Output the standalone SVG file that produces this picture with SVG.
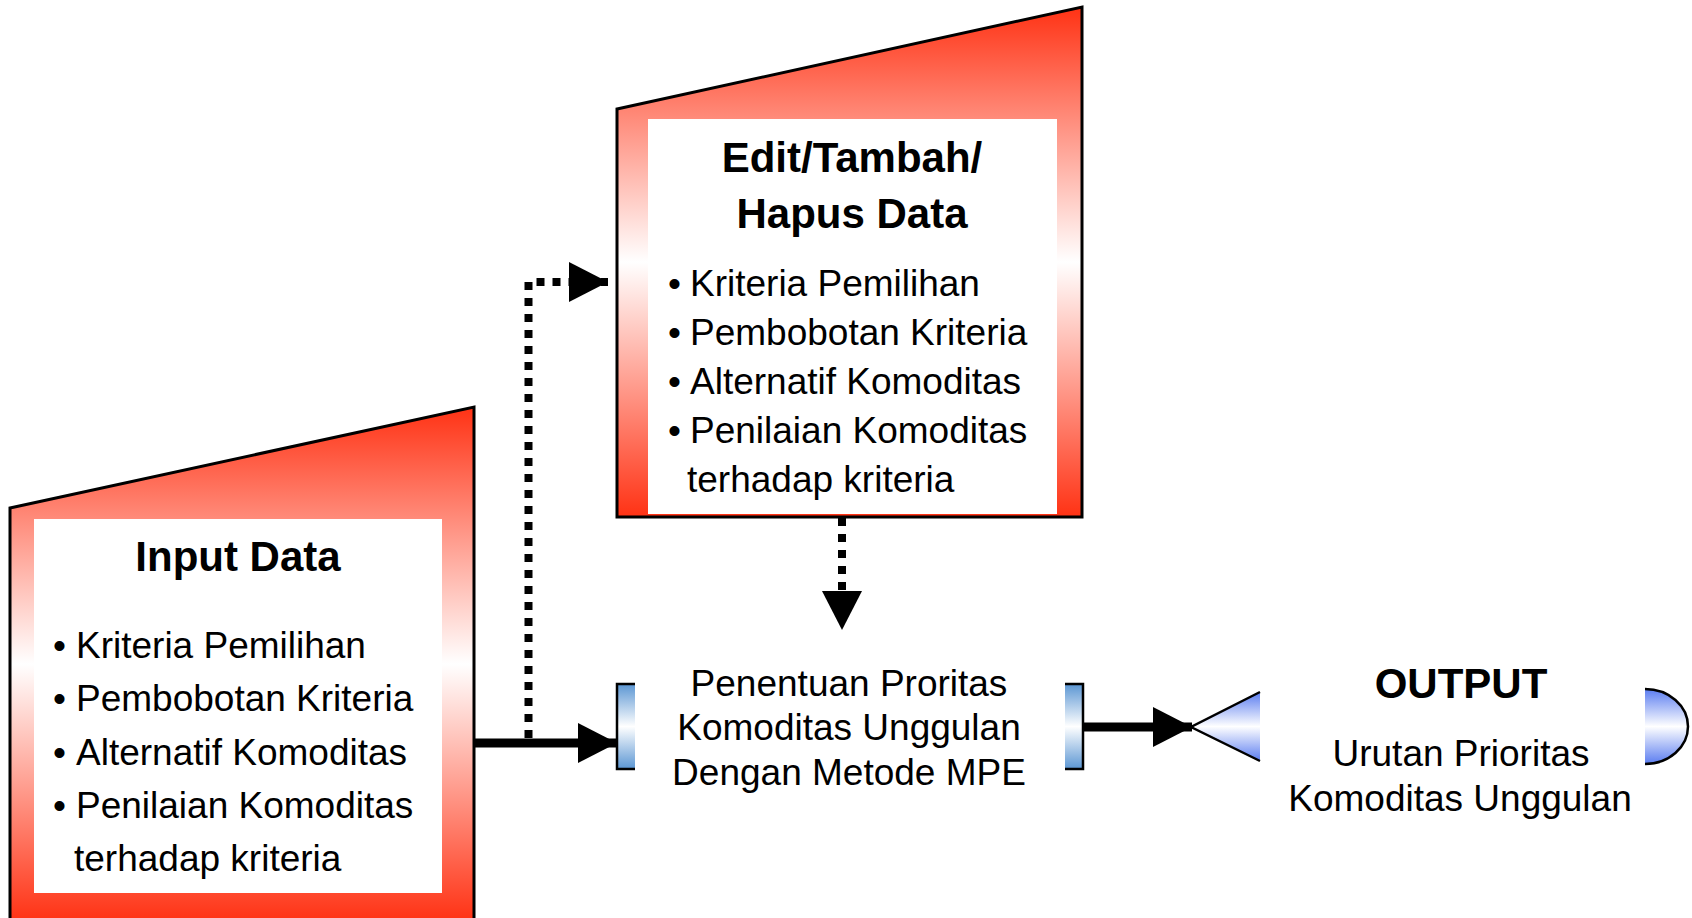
<svg xmlns="http://www.w3.org/2000/svg" width="1692" height="918" viewBox="0 0 1692 918">
  <defs>
    <linearGradient id="redFade" x1="0" y1="0" x2="0" y2="1">
      <stop offset="0" stop-color="#ff3214"/>
      <stop offset="0.5" stop-color="#ffffff"/>
      <stop offset="1" stop-color="#ff3214"/>
    </linearGradient>
    <linearGradient id="steelFade" x1="0" y1="0" x2="0" y2="1">
      <stop offset="0" stop-color="#5b96d3"/>
      <stop offset="0.5" stop-color="#ffffff"/>
      <stop offset="1" stop-color="#5b96d3"/>
    </linearGradient>
    <linearGradient id="violetFade" x1="0" y1="0" x2="0" y2="1">
      <stop offset="0" stop-color="#5a7cf0"/>
      <stop offset="0.5" stop-color="#ffffff"/>
      <stop offset="1" stop-color="#5a7cf0"/>
    </linearGradient>
    <marker id="head" markerUnits="userSpaceOnUse" markerWidth="40" markerHeight="40" refX="39" refY="20" orient="auto">
      <path d="M0,0 L39,20 L0,40 Z" fill="#000"/>
    </marker>
    <style>
      .frame { fill: url(#redFade); stroke: #000; stroke-width: 3; stroke-linejoin: miter; }
      .panel { fill: #ffffff; }
      .title { font-family: "Liberation Sans", Arial, sans-serif; font-weight: bold; font-size: 42px; fill: #000; text-anchor: middle; }
      .body { font-family: "Liberation Sans", Arial, sans-serif; font-size: 37px; fill: #000; }
      .mid { text-anchor: middle; }
      .edge { fill: none; stroke: #000; stroke-width: 2.5; }
      .solid { fill: none; stroke: #000; stroke-width: 9; marker-end: url(#head); }
      .dotted { fill: none; stroke: #000; stroke-width: 8; stroke-dasharray: 8 8; marker-end: url(#head); }
    </style>
  </defs>

  <!-- Input node -->
  <g id="input-data">
    <path class="frame" d="M10,508 L474,407 L474,921 L10,921 Z"/>
    <rect class="panel" x="34" y="519" width="408" height="374"/>
    <text class="title" x="238" y="571">Input Data</text>
    <g class="body">
      <text x="53" y="658">•</text><text x="76" y="658">Kriteria Pemilihan</text>
      <text x="53" y="711">•</text><text x="76" y="711">Pembobotan Kriteria</text>
      <text x="53" y="765">•</text><text x="76" y="765">Alternatif Komoditas</text>
      <text x="53" y="818">•</text><text x="76" y="818">Penilaian Komoditas</text>
      <text x="74" y="871">terhadap kriteria</text>
    </g>
  </g>

  <!-- Edit node -->
  <g id="edit-data">
    <path class="frame" d="M617,109 L1082,7 L1082,517 L617,517 Z"/>
    <rect class="panel" x="648" y="119" width="409" height="395"/>
    <text class="title" x="852" y="172">Edit/Tambah/</text>
    <text class="title" x="852" y="228">Hapus Data</text>
    <g class="body">
      <text x="668" y="296">•</text><text x="690" y="296">Kriteria Pemilihan</text>
      <text x="668" y="345">•</text><text x="690" y="345">Pembobotan Kriteria</text>
      <text x="668" y="394">•</text><text x="690" y="394">Alternatif Komoditas</text>
      <text x="668" y="443">•</text><text x="690" y="443">Penilaian Komoditas</text>
      <text x="687" y="492">terhadap kriteria</text>
    </g>
  </g>

  <!-- Process node -->
  <g id="process">
    <rect x="617" y="684" width="18" height="85" fill="url(#steelFade)"/>
    <path class="edge" d="M635,684 H617 V769 H635"/>
    <rect x="1065" y="684" width="18" height="85" fill="url(#steelFade)"/>
    <path class="edge" d="M1065,684 H1083 V769 H1065"/>
    <g class="body mid">
      <text x="849" y="696">Penentuan Proritas</text>
      <text x="849" y="740">Komoditas Unggulan</text>
      <text x="849" y="785">Dengan Metode MPE</text>
    </g>
  </g>

  <!-- Output node -->
  <g id="output">
    <path d="M1191,727 L1260,692 L1260,761 Z" fill="url(#violetFade)"/>
    <path class="edge" stroke-width="2" d="M1260,692 L1191,727 L1260,761"/>
    <path d="M1645,689 A43,37.5 0 0 1 1645,764 Z" fill="url(#violetFade)"/>
    <path class="edge" stroke-width="2" d="M1645,689 A43,37.5 0 0 1 1645,764"/>
    <text class="title" x="1461" y="698" font-size="41">OUTPUT</text>
    <g class="body mid">
      <text x="1461" y="766">Urutan Prioritas</text>
      <text x="1460" y="811">Komoditas Unggulan</text>
    </g>
  </g>

  <!-- Connectors -->
  <g id="connectors">
    <path class="solid" d="M474,743 H617"/>
    <path class="dotted" d="M528.5,738 V282 H608"/>
    <path class="dotted" d="M842,518 V630"/>
    <path class="solid" d="M1083,727 H1192"/>
  </g>
</svg>
